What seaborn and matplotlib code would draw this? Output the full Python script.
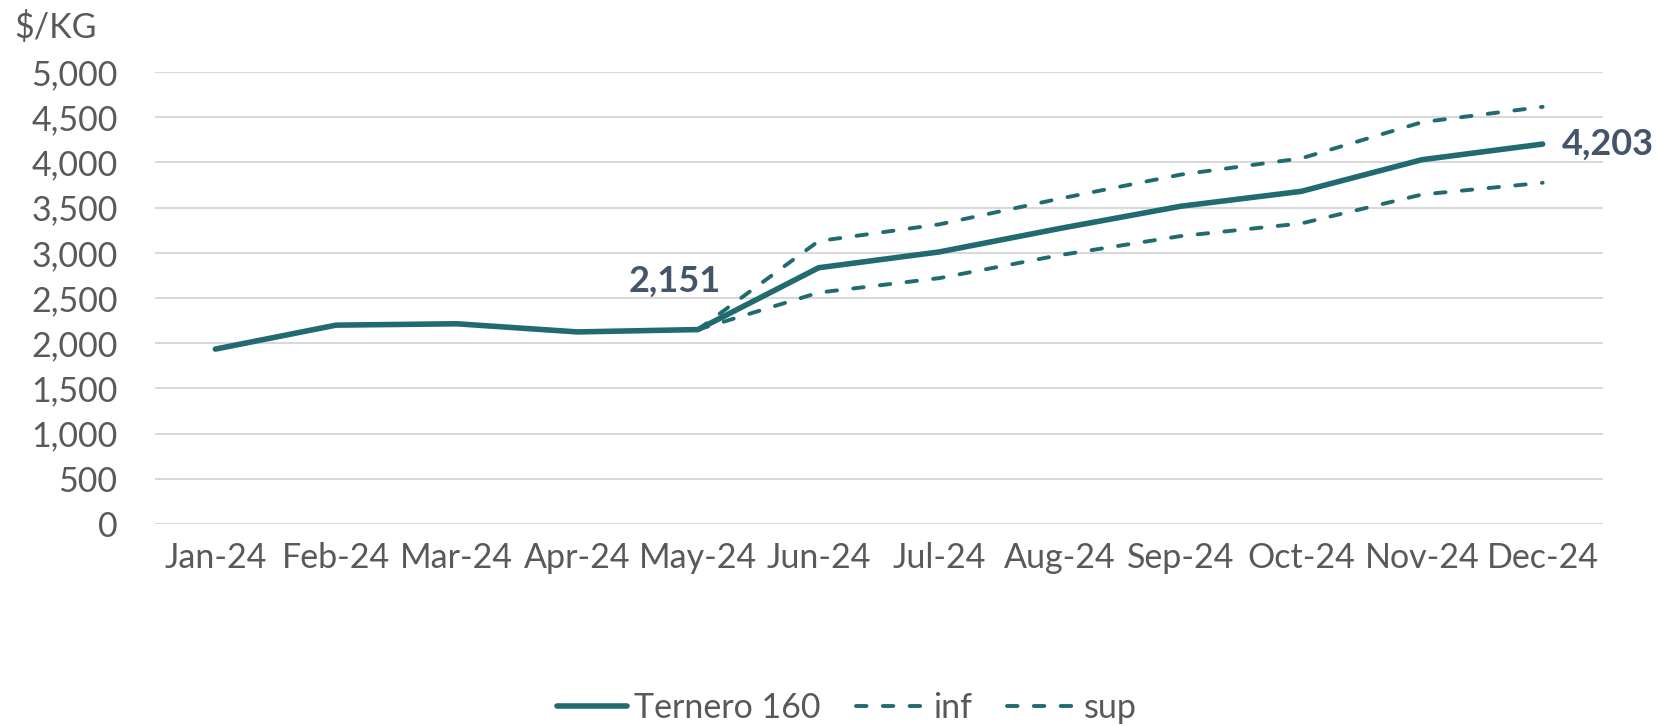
import numpy as np
import pandas as pd
import matplotlib
matplotlib.use("Agg")
import matplotlib.pyplot as plt
import seaborn as sns
from matplotlib.lines import Line2D

months = ["Jan-24", "Feb-24", "Mar-24", "Apr-24", "May-24", "Jun-24",
          "Jul-24", "Aug-24", "Sep-24", "Oct-24", "Nov-24", "Dec-24"]
ternero = [1935, 2200, 2215, 2125, 2151, 2835, 3010, 3270, 3515, 3680, 4030, 4203]
inf = [np.nan, np.nan, np.nan, np.nan, 2151, 2560, 2720, 2975, 3185, 3325, 3645, 3775]
sup = [np.nan, np.nan, np.nan, np.nan, 2151, 3130, 3315, 3600, 3865, 4045, 4445, 4615]
yticks = [0, 500, 1000, 1500, 2000, 2500, 3000, 3500, 4000, 4500, 5000]

sns.set_theme(style="white")
plt.rcParams["font.family"] = ["Lato", "DejaVu Sans"]

TEAL = "#216B70"
TXT = "#595959"
LAB = "#44546A"
FS = 24.5
LW_MAIN = 4.0
LW_DASH = 2.8
DASH = (0, (2.7, 4.2))

df = pd.DataFrame({"x": np.arange(len(months)), "Ternero 160": ternero, "inf": inf, "sup": sup})

fig = plt.figure(figsize=(16.58, 7.26), dpi=100)
ax = fig.add_axes([0.0935, 0.2782, 0.9668 - 0.0935, 0.9008 - 0.2782])

sns.lineplot(data=df, x="x", y="Ternero 160", ax=ax, color=TEAL, linewidth=LW_MAIN,
             solid_capstyle="round", solid_joinstyle="round")
d_inf = df.dropna(subset=["inf"])
d_sup = df.dropna(subset=["sup"])
sns.lineplot(data=d_inf, x="x", y="inf", ax=ax, color=TEAL, linewidth=LW_DASH,
             linestyle=DASH, dash_capstyle="round")
sns.lineplot(data=d_sup, x="x", y="sup", ax=ax, color=TEAL, linewidth=LW_DASH,
             linestyle=DASH, dash_capstyle="round")

ax.set_xlim(-0.5, len(months) - 0.5)
ax.set_ylim(0, 5000)
ax.set_yticks(yticks)
ax.set_yticklabels([f"{v:,}" for v in yticks])
ax.set_xticks(np.arange(len(months)))
ax.set_xticklabels(months)
ax.tick_params(axis="both", length=0, labelsize=FS, labelcolor=TXT)
ax.tick_params(axis="y", pad=27)
ax.tick_params(axis="x", pad=13)
ax.grid(axis="y", color="#D9D9D9", linewidth=1.5)
ax.grid(axis="x", visible=False)
for s in ax.spines.values():
    s.set_visible(False)
ax.set_xlabel("")
ax.set_ylabel("")

fig.text(14 / 1658, 1 - 27 / 726, "$/KG", fontsize=FS, color=TXT, ha="left", va="center")

ax.annotate(f"{ternero[4]:,}", xy=(4, ternero[4]), xytext=(-17, 35), textcoords="offset points",
            ha="center", va="center", fontsize=26, fontweight="bold", color=LAB)
ax.annotate(f"{ternero[11]:,}", xy=(11, ternero[11]), xytext=(14, 0), textcoords="offset points",
            ha="left", va="center", fontsize=26, fontweight="bold", color=LAB, annotation_clip=False)

handles = [
    Line2D([0], [0], color=TEAL, linewidth=LW_MAIN, solid_capstyle="round"),
    Line2D([0], [0], color=TEAL, linewidth=LW_DASH, linestyle=DASH, dash_capstyle="round"),
    Line2D([0], [0], color=TEAL, linewidth=LW_DASH, linestyle=DASH, dash_capstyle="round"),
]
leg = fig.legend(handles, ["Ternero 160", "inf", "sup"], loc="center", bbox_to_anchor=(0.511, 1 - 708 / 726),
                 ncol=3, frameon=False, fontsize=FS, handlelength=2.05, handletextpad=0.2,
                 columnspacing=1.05, labelcolor=TXT)

fig.savefig("out.png", dpi=100)
